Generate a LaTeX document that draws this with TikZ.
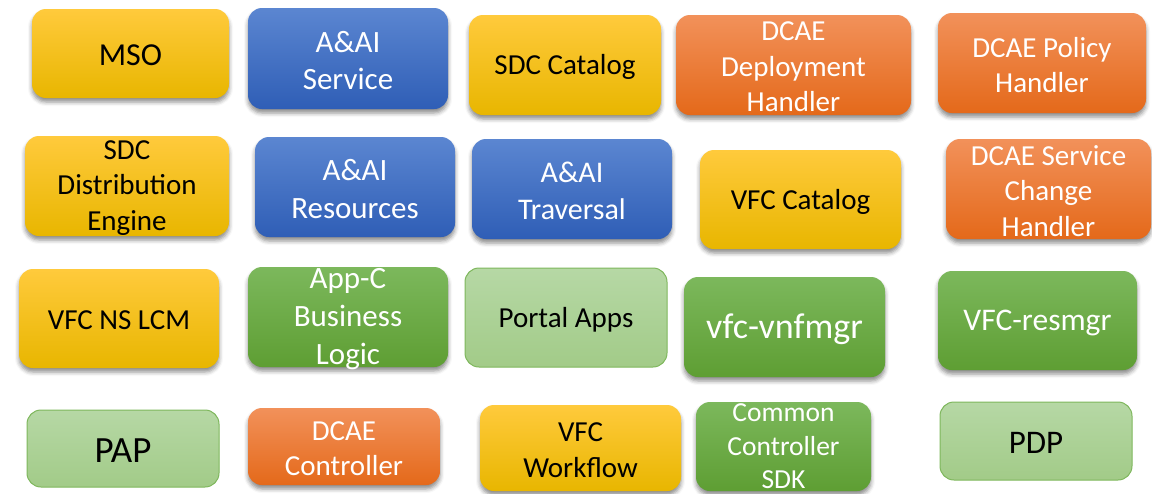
\documentclass[tikz,border=0pt]{standalone}
\usepackage{fontspec}
\setmainfont{Carlito}
\usetikzlibrary{shadows.blur}
\definecolor{yTop}{HTML}{FFCA3C}
\definecolor{yMid}{HTML}{FFC000}
\definecolor{yBot}{HTML}{E8B600}
\definecolor{bTop}{HTML}{5B86D1}
\definecolor{bMid}{HTML}{4472C4}
\definecolor{bBot}{HTML}{2F5EB6}
\definecolor{oTop}{HTML}{F2915A}
\definecolor{oMid}{HTML}{F07B2E}
\definecolor{oBot}{HTML}{E4691A}
\definecolor{gTop}{HTML}{7CB85C}
\definecolor{gMid}{HTML}{6EAD45}
\definecolor{gBot}{HTML}{5E9E33}
\definecolor{lTop}{HTML}{B6D8A5}
\definecolor{lBot}{HTML}{A2CB88}
\definecolor{lEdge}{HTML}{7EB75C}
\tikzset{
  card/.style={rounded corners=14pt, inner sep=0pt, draw=none},
  shad/.style={blur shadow={shadow xshift=0pt, shadow yshift=-4pt, shadow blur radius=4pt, shadow opacity=45}},
  ybox/.style={card, shad, top color=yTop, middle color=yMid, bottom color=yBot},
  bbox/.style={card, shad, top color=bTop, middle color=bMid, bottom color=bBot},
  obox/.style={card, shad, top color=oTop, middle color=oMid, bottom color=oBot},
  gbox/.style={card, shad, top color=gTop, middle color=gMid, bottom color=gBot},
  lbox/.style={card, draw=lEdge, line width=1pt, top color=lTop, bottom color=lBot},
  dark/.style={text=black, yshift=-2pt},
  light/.style={text=white, yshift=-2pt},
  lightup/.style={text=white},
}
\newcommand\mybox[9]{%
  \pgfmathsetmacro\myskip{#7*1.22}%
  \node[#2, minimum width={#5pt-#3pt}, minimum height={#6pt-#4pt},
    label={[#9, align=center, inner sep=0pt, font=\fontsize{#7}{\myskip}\selectfont]center:#8}]
    (#1) at ({(#3+#5)/2},{(#4+#6)/2}) {};}
\begin{document}
\begin{tikzpicture}[x=1pt, y=-1pt]
\useasboundingbox (0,0) rectangle (1152,493);
% row 1
\mybox{mso}{ybox}{32}{9}{229}{98}{32}{MSO}{dark}
\mybox{aaiserv}{bbox}{248}{8}{448}{109}{31}{A\&AI\\Service}{light}
\mybox{sdccat}{ybox}{469}{15}{661}{115}{29}{SDC Catalog}{dark}
\mybox{dcaedh}{obox}{676}{15}{911}{115}{29}{DCAE\\Deployment\\Handler}{light}
\mybox{dcaeph}{obox}{938}{13}{1146}{113}{29}{DCAE Policy\\Handler}{light}
% row 2
\mybox{sdcde}{ybox}{25}{136}{229}{236}{29}{SDC\\Distribution\\Engine}{dark}
\mybox{aair}{bbox}{255}{137}{455}{237}{31}{A\&AI\\Resources}{light}
\mybox{aait}{bbox}{472}{139}{672}{239}{30}{A\&AI\\Traversal}{light}
\mybox{vfccat}{ybox}{700}{150}{901}{249}{29}{VFC Catalog}{dark}
\mybox{dcaesch}{obox}{946}{139}{1151}{239}{29}{DCAE Service\\Change\\Handler}{light}
% row 3
\mybox{vfcns}{ybox}{19}{269}{219}{368}{29}{VFC NS LCM}{dark}
\mybox{appc}{gbox}{248}{267}{448}{367}{31}{App-C\\Business\\Logic}{light}
\mybox{portal}{lbox}{465}{268}{667}{367}{29}{Portal Apps}{dark}
\mybox{vnfm}{gbox}{684}{277}{885}{377}{36}{vfc-vnfmgr}{light}
\mybox{resmgr}{gbox}{938}{271}{1137}{370}{31.5}{VFC-resmgr}{light}
% row 4
\mybox{pap}{lbox}{27}{410}{219}{487}{37}{PAP}{dark}
\mybox{dcaec}{obox}{248}{408}{440}{485}{29}{DCAE\\Controller}{light}
\mybox{vfcwf}{ybox}{480}{405}{681}{491}{29}{VFC\\Workflow}{dark}
\mybox{ccsdk}{gbox}{696}{402}{871}{491}{27.5}{Common\\Controller\\SDK}{lightup}
\mybox{pdp}{lbox}{940}{402}{1132}{480}{33}{PDP}{dark}
\end{tikzpicture}
\end{document}
